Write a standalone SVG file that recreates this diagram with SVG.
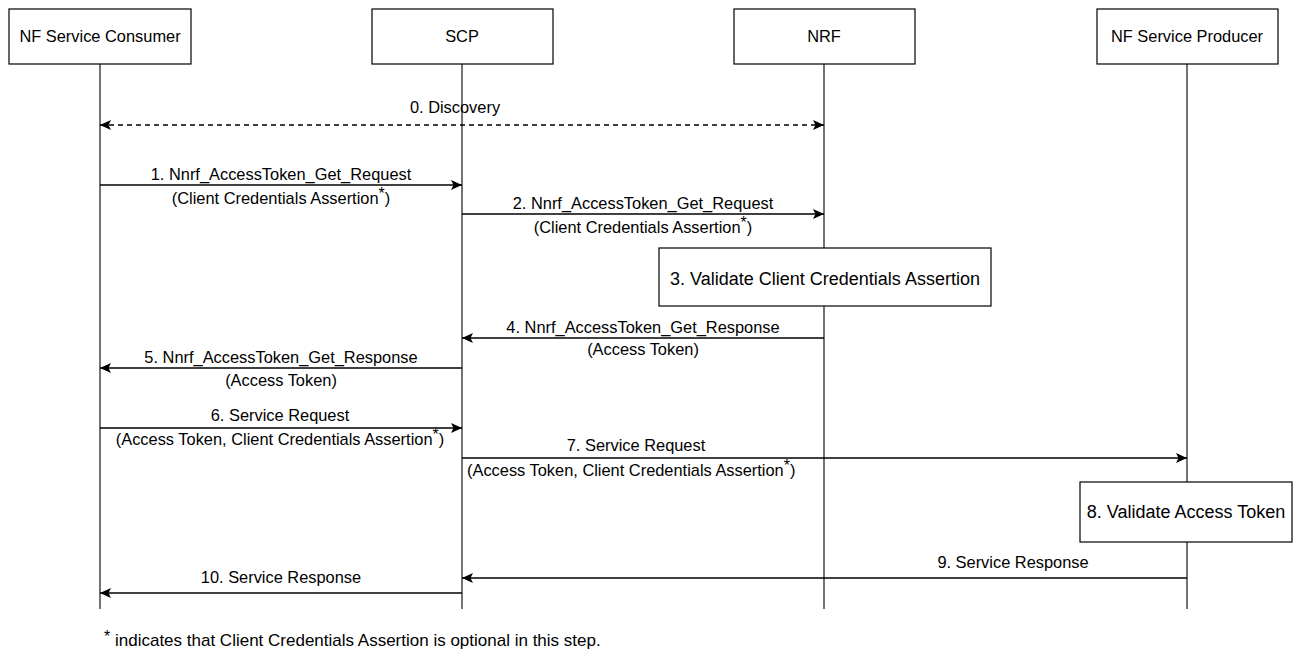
<svg xmlns="http://www.w3.org/2000/svg" width="1293" height="652" viewBox="0 0 1293 652">
<defs>
<marker id="ah" viewBox="0 0 11 11" refX="11" refY="5.5" markerWidth="11" markerHeight="11" markerUnits="userSpaceOnUse" orient="auto-start-reverse">
<path d="M0,0.5 L11,5.5 L0,10.5 L2.5,5.5 Z" fill="#000"/>
</marker>
<style>
.box{fill:#fff;stroke:#000;stroke-width:1.2}
.life{stroke:#000;stroke-width:1.1;fill:none}
.msg{stroke:#000;stroke-width:1.3;fill:none;marker-end:url(#ah)}
.dash{stroke:#000;stroke-width:1.3;fill:none;stroke-dasharray:5 4;marker-end:url(#ah);marker-start:url(#ah)}
text{font-family:"Liberation Sans",Arial,sans-serif;fill:#000}
.t{font-size:16.4px}
.big{font-size:18px}
.c{text-anchor:middle}
.foot{font-size:17px}
.sup{font-size:16px}
</style>
</defs>
<rect width="1293" height="652" fill="#fff"/>
<g id="lifelines">
<line class="life" x1="100" y1="64" x2="100" y2="609"/>
<line class="life" x1="462" y1="64" x2="462" y2="609"/>
<line class="life" x1="824" y1="64" x2="824" y2="609"/>
<line class="life" x1="1187" y1="64" x2="1187" y2="609"/>
</g>
<g id="consumer"><rect class="box" x="9" y="9" width="182" height="55"/><text class="t c" x="100" y="42">NF Service Consumer</text></g>
<g id="scp"><rect class="box" x="372" y="9" width="181" height="55"/><text class="t c" x="462" y="42">SCP</text></g>
<g id="nrf"><rect class="box" x="734" y="9" width="181" height="55"/><text class="t c" x="824" y="42">NRF</text></g>
<g id="producer"><rect class="box" x="1097" y="9" width="181" height="55"/><text class="t c" x="1187" y="42">NF Service Producer</text></g>
<g id="step3"><rect class="box" x="659" y="248" width="332" height="58"/><text class="big c" x="825" y="285">3. Validate Client Credentials Assertion</text></g>
<g id="step8"><rect class="box" x="1080" y="482" width="212" height="60"/><text class="big c" x="1186" y="518">8. Validate Access Token</text></g>
<g id="connectors">
<line class="dash" x1="100" y1="125" x2="824" y2="125"/>
<line class="msg" x1="100" y1="185" x2="462" y2="185"/>
<line class="msg" x1="462" y1="214" x2="824" y2="214"/>
<line class="msg" x1="824" y1="338" x2="462" y2="338"/>
<line class="msg" x1="462" y1="368" x2="100" y2="368"/>
<line class="msg" x1="100" y1="428" x2="462" y2="428"/>
<line class="msg" x1="462" y1="458" x2="1187" y2="458"/>
<line class="msg" x1="1187" y1="578" x2="462" y2="578"/>
<line class="msg" x1="462" y1="593" x2="100" y2="593"/>
</g>
<g id="labels">
<text class="t c" x="455" y="113">0. Discovery</text>
<text class="t c" x="281" y="180">1. Nnrf_AccessToken_Get_Request</text>
<text class="t c" x="281" y="204">(Client Credentials Assertion<tspan class="sup" dy="-5">*</tspan><tspan dy="5">)</tspan></text>
<text class="t c" x="643" y="209">2. Nnrf_AccessToken_Get_Request</text>
<text class="t c" x="643" y="233">(Client Credentials Assertion<tspan class="sup" dy="-5">*</tspan><tspan dy="5">)</tspan></text>
<text class="t c" x="643" y="333">4. Nnrf_AccessToken_Get_Response</text>
<text class="t c" x="643" y="355">(Access Token)</text>
<text class="t c" x="281" y="363">5. Nnrf_AccessToken_Get_Response</text>
<text class="t c" x="281" y="386">(Access Token)</text>
<text class="t c" x="280" y="421">6. Service Request</text>
<text class="t c" x="280" y="445">(Access Token, Client Credentials Assertion<tspan class="sup" dy="-5">*</tspan><tspan dy="5">)</tspan></text>
<text class="t c" x="636" y="451">7. Service Request</text>
<text class="t" x="467" y="476">(Access Token, Client Credentials Assertion<tspan class="sup" dy="-5">*</tspan><tspan dy="5">)</tspan></text>
<text class="t c" x="1013" y="568">9. Service Response</text>
<text class="t c" x="281" y="583">10. Service Response</text>
<text class="foot" x="104" y="646"><tspan class="sup" dy="-4">*</tspan><tspan dy="4"> indicates that Client Credentials Assertion is optional in this step.</tspan></text>
</g>
</svg>
